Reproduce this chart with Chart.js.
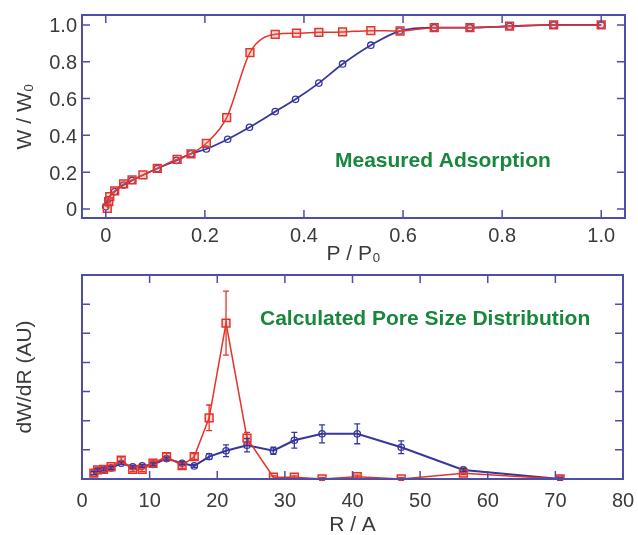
<!DOCTYPE html>
<html>
<head>
<meta charset="utf-8">
<script src="https://cdn.jsdelivr.net/npm/chart.js@4.4.1/dist/chart.umd.min.js"></script>
<style>
	body { margin: 0; background: #fff; }
	#wrap { position: relative; width: 638px; height: 535px; }
	canvas { position: absolute; left: 0; }
	#top { top: 0; }
	#bottom { top: 270px; }
</style>
</head>
<body>
<div id="wrap">
	<canvas id="top" width="638" height="270"></canvas>
	<canvas id="bottom" width="638" height="265"></canvas>
</div>
<script>
// measured adsorption (P/P0 vs W/W0)
const adsRedP = [0.003, 0.006, 0.008, 0.018, 0.036, 0.053, 0.075, 0.104, 0.144, 0.172, 0.203, 0.244, 0.291, 0.342, 0.385, 0.430, 0.478, 0.535, 0.594, 0.663, 0.735, 0.815, 0.904, 1.0];
const adsRedW = [0.004, 0.04, 0.067, 0.098, 0.136, 0.158, 0.185, 0.221, 0.27, 0.30, 0.357, 0.496, 0.85, 0.949, 0.955, 0.96, 0.962, 0.969, 0.967, 0.985, 0.985, 0.993, 1.0, 1.0];
const adsBlueP = [0.0, 0.004, 0.018, 0.036, 0.053, 0.104, 0.143, 0.172, 0.203, 0.246, 0.290, 0.342, 0.383, 0.430, 0.478, 0.535, 0.593, 0.663, 0.735, 0.815, 0.904, 1.0];
const adsBlueW = [0.013, 0.05, 0.095, 0.13, 0.155, 0.22, 0.264, 0.30, 0.326, 0.379, 0.444, 0.529, 0.596, 0.684, 0.788, 0.89, 0.967, 0.985, 0.985, 0.993, 1.0, 1.0];

// pore size distribution (R vs dW/dR)
const poreR = [1.75, 2.3, 3.2, 4.3, 5.8, 7.5, 8.9, 10.5, 12.5, 14.8, 16.6, 18.8, 21.3, 24.4, 28.3, 31.4, 35.5, 40.7, 47.2, 56.4, 70.7];
const poreRed = [0.2, 0.31, 0.33, 0.42, 0.65, 0.33, 0.33, 0.54, 0.77, 0.46, 0.77, 2.1, 5.35, 1.4, 0.06, 0.06, 0.0, 0.08, 0.0, 0.2, 0.0];
const poreRedErr = [0.05, 0.05, 0.05, 0.05, 0.1, 0.08, 0.08, 0.08, 0.12, 0.1, 0.1, 0.44, 1.1, 0.2, 0.05, 0.05, 0.05, 0.05, 0.05, 0.05, 0.05];
const poreBlue = [0.2, 0.3, 0.33, 0.38, 0.54, 0.42, 0.45, 0.5, 0.7, 0.54, 0.45, 0.77, 0.97, 1.16, 0.97, 1.33, 1.55, 1.55, 1.09, 0.31, 0.0];
const poreBlueErr = [0.05, 0.05, 0.05, 0.05, 0.05, 0.05, 0.05, 0.05, 0.05, 0.05, 0.05, 0.1, 0.2, 0.23, 0.12, 0.27, 0.31, 0.34, 0.22, 0.05, 0.03];

const RED = '#e6332a';
const BLUE = '#36369e';
const FRAME = '#4d4daa';
const TEXT = '#3a3a3a';
const GREEN = '#17873c';
const FONT = '"Liberation Sans", Arial, sans-serif';

Chart.defaults.font.family = FONT;
Chart.defaults.color = TEXT;

const xy = (xs, ys) => xs.map((x, i) => ({ x: x, y: ys[i] }));

// fixed axis size, no extra padding for overhanging labels
const fixSize = (w, h) => s => {
	if (w != null) s.width = w;
	if (h != null) s.height = h;
	s.paddingTop = s.paddingBottom = s.paddingLeft = s.paddingRight = 0;
};

// box around the plot area with inward ticks on all four sides
const framePlugin = {
	id: 'frame',
	afterDraw(chart) {
		const { ctx, chartArea: a, scales } = chart;
		const len = 8;
		ctx.save();
		ctx.strokeStyle = FRAME;
		ctx.lineWidth = 2;
		ctx.strokeRect(a.left, a.top, a.right - a.left, a.bottom - a.top);
		ctx.lineWidth = 1.5;
		ctx.beginPath();
		scales.x.ticks.forEach(t => {
			const px = scales.x.getPixelForValue(t.value);
			if (px <= a.left + 1 || px >= a.right - 1) return;
			ctx.moveTo(px, a.bottom); ctx.lineTo(px, a.bottom - len);
			ctx.moveTo(px, a.top); ctx.lineTo(px, a.top + len);
		});
		scales.y.ticks.forEach(t => {
			const py = scales.y.getPixelForValue(t.value);
			if (py <= a.top + 1 || py >= a.bottom - 1) return;
			ctx.moveTo(a.left, py); ctx.lineTo(a.left + len, py);
			ctx.moveTo(a.right, py); ctx.lineTo(a.right - len, py);
		});
		ctx.stroke();
		ctx.restore();
	}
};

// vertical error bars from dataset.errors
const errorPlugin = {
	id: 'errbars',
	afterDatasetsDraw(chart) {
		const { ctx } = chart;
		const ys = chart.scales.y;
		chart.data.datasets.forEach((ds, i) => {
			if (!ds.errors) return;
			const meta = chart.getDatasetMeta(i);
			ctx.save();
			ctx.strokeStyle = ds.borderColor;
			ctx.lineWidth = 1.3;
			ctx.beginPath();
			meta.data.forEach((pt, j) => {
				const v = ds.data[j].y, e = ds.errors[j];
				const y1 = ys.getPixelForValue(v + e), y2 = ys.getPixelForValue(v - e);
				ctx.moveTo(pt.x, y1); ctx.lineTo(pt.x, y2);
				ctx.moveTo(pt.x - 3, y1); ctx.lineTo(pt.x + 3, y1);
				ctx.moveTo(pt.x - 3, y2); ctx.lineTo(pt.x + 3, y2);
			});
			ctx.stroke();
			ctx.restore();
		});
	}
};

// green caption inside the plot
const captionPlugin = {
	id: 'caption',
	afterDraw(chart, args, opts) {
		const { ctx } = chart;
		ctx.save();
		ctx.fillStyle = GREEN;
		ctx.font = 'bold 21px ' + FONT;
		ctx.textBaseline = 'alphabetic';
		ctx.fillText(opts.text, opts.x, opts.y);
		ctx.restore();
	}
};

const fmt = v => (Math.abs(v) < 1e-9 ? '0' : v.toFixed(1));

new Chart(document.getElementById('top'), {
	type: 'line',
	data: {
		datasets: [{
			data: xy(adsRedP, adsRedW),
			borderColor: RED,
			borderWidth: 1.5,
			cubicInterpolationMode: 'monotone',
			pointStyle: 'rect',
			pointRadius: 5.5,
			pointBorderWidth: 1.5,
			pointBackgroundColor: 'rgba(240,110,100,0.25)',
			pointBorderColor: RED
		}, {
			data: xy(adsBlueP, adsBlueW),
			borderColor: BLUE,
			borderWidth: 1.8,
			cubicInterpolationMode: 'monotone',
			pointStyle: 'circle',
			pointRadius: 3.2,
			pointBorderWidth: 1.3,
			pointBackgroundColor: 'rgba(255,255,255,0)',
			pointBorderColor: BLUE
		}]
	},
	options: {
		responsive: false,
		animation: false,
		devicePixelRatio: 1,
		layout: { autoPadding: false, padding: { left: 0, right: 13, top: 15, bottom: 0 } },
		plugins: {
			legend: { display: false },
			tooltip: { enabled: false },
			caption: { text: 'Measured Adsorption', x: 335, y: 167 }
		},
		scales: {
			x: {
				type: 'linear',
				min: -0.048, max: 1.048,
				grid: { display: false, drawTicks: false },
				border: { display: false },
				ticks: { stepSize: 0.2, includeBounds: false, padding: 6, maxRotation: 0, font: { size: 20 }, callback: fmt },
				title: { display: true, text: 'P / P₀', font: { size: 21 }, padding: { top: 0, bottom: 3 } },
				afterFit: fixSize(null, 52)
			},
			y: {
				min: -0.049, max: 1.054,
				grid: { display: false, drawTicks: false },
				border: { display: false },
				ticks: { stepSize: 0.2, includeBounds: false, padding: 5, labelOffset: 2, font: { size: 20 }, callback: fmt },
				title: { display: true, text: 'W / W₀', font: { size: 21 }, padding: { top: 13, bottom: 0 } },
				afterFit: fixSize(82, null)
			}
		}
	},
	plugins: [framePlugin, captionPlugin]
});

new Chart(document.getElementById('bottom'), {
	type: 'line',
	data: {
		datasets: [{
			data: xy(poreR, poreRed),
			errors: poreRedErr,
			borderColor: RED,
			borderWidth: 1.5,
			pointStyle: 'rect',
			pointRadius: 5.5,
			pointBorderWidth: 1.5,
			pointBackgroundColor: 'rgba(240,110,100,0.25)',
			pointBorderColor: RED
		}, {
			data: xy(poreR, poreBlue),
			errors: poreBlueErr,
			borderColor: BLUE,
			borderWidth: 2,
			pointStyle: 'circle',
			pointRadius: 3.2,
			pointBorderWidth: 1.3,
			pointBackgroundColor: 'rgba(255,255,255,0)',
			pointBorderColor: BLUE
		}]
	},
	options: {
		responsive: false,
		animation: false,
		devicePixelRatio: 1,
		layout: { autoPadding: false, padding: { left: 0, right: 15, top: 5, bottom: 0 } },
		plugins: {
			legend: { display: false },
			tooltip: { enabled: false },
			caption: { text: 'Calculated Pore Size Distribution', x: 260, y: 55 }
		},
		scales: {
			x: {
				type: 'linear',
				min: 0, max: 80,
				grid: { display: false, drawTicks: false },
				border: { display: false },
				ticks: { stepSize: 10, padding: 10, maxRotation: 0, font: { size: 20 } },
				title: { display: true, text: 'R / A', font: { size: 21 }, padding: { top: 0, bottom: -3 } },
				afterFit: fixSize(null, 56)
			},
			y: {
				min: 0, max: 7,
				grid: { display: false, drawTicks: false },
				border: { display: false },
				ticks: { stepSize: 1, font: { size: 20 }, callback: () => '' },
				title: { display: true, text: 'dW/dR (AU)', font: { size: 21 }, padding: { top: 13, bottom: 0 } },
				afterFit: fixSize(82, null)
			}
		}
	},
	plugins: [framePlugin, errorPlugin, captionPlugin]
});
</script>
</body>
</html>
